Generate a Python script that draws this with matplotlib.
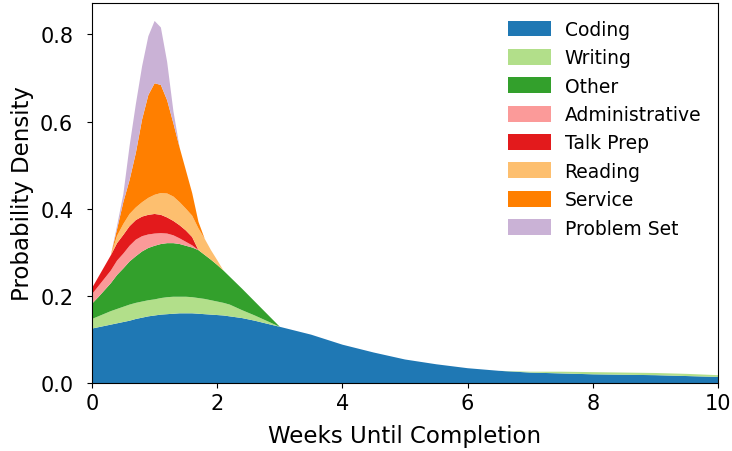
import numpy as np
import matplotlib
matplotlib.use('Agg')
import matplotlib.pyplot as plt

# weeks grid the densities were read at
weeks = [0.0, 0.1, 0.2, 0.3, 0.4, 0.5, 0.6, 0.7, 0.8, 0.9, 1.0, 1.1, 1.2, 1.3,
         1.4, 1.5, 1.6, 1.7, 1.8, 1.9, 2.0, 2.1, 2.2, 2.4, 2.6, 2.8, 3.0, 3.5,
         4.0, 4.5, 5.0, 5.5, 6.0, 6.5, 7.0, 7.5, 8.0, 8.5, 9.0, 9.5, 10.0]

coding = [0.125, 0.128, 0.131, 0.134, 0.137, 0.140, 0.143, 0.147, 0.150, 0.153,
          0.155, 0.157, 0.158, 0.159, 0.160, 0.160, 0.160, 0.159, 0.158, 0.157,
          0.156, 0.155, 0.153, 0.149, 0.143, 0.136, 0.129, 0.111, 0.088, 0.070,
          0.054, 0.043, 0.034, 0.028, 0.024, 0.022, 0.020, 0.019, 0.018, 0.016,
          0.014]
writing = [0.022, 0.025, 0.028, 0.031, 0.033, 0.035, 0.037, 0.037, 0.037, 0.037,
           0.037, 0.038, 0.039, 0.039, 0.038, 0.038, 0.037, 0.036, 0.035, 0.033,
           0.031, 0.029, 0.027, 0.018, 0.012, 0.006, 0.0, 0.0, 0.0, 0.0,
           0.0, 0.0, 0.0, 0.0, 0.002, 0.004, 0.005, 0.005, 0.005, 0.005,
           0.004]
other = [0.035, 0.044, 0.054, 0.064, 0.078, 0.088, 0.099, 0.107, 0.115, 0.120,
         0.123, 0.124, 0.124, 0.123, 0.121, 0.117, 0.114, 0.110, 0.101, 0.093,
         0.084, 0.074, 0.064, 0.049, 0.032, 0.016, 0.0, 0.0, 0.0, 0.0,
         0.0, 0.0, 0.0, 0.0, 0.0, 0.0, 0.0, 0.0, 0.0, 0.0,
         0.0]
administrative = [0.022, 0.025, 0.027, 0.029, 0.033, 0.034, 0.036, 0.038, 0.035, 0.031,
                  0.028, 0.025, 0.022, 0.018, 0.013, 0.009, 0.005, 0.0, 0.0, 0.0,
                  0.0, 0.0, 0.0, 0.0, 0.0, 0.0, 0.0, 0.0, 0.0, 0.0,
                  0.0, 0.0, 0.0, 0.0, 0.0, 0.0, 0.0, 0.0, 0.0, 0.0,
                  0.0]
talk_prep = [0.014, 0.021, 0.028, 0.035, 0.040, 0.043, 0.045, 0.045, 0.045, 0.045,
             0.045, 0.042, 0.037, 0.033, 0.030, 0.026, 0.019, 0.0, 0.0, 0.0,
             0.0, 0.0, 0.0, 0.0, 0.0, 0.0, 0.0, 0.0, 0.0, 0.0,
             0.0, 0.0, 0.0, 0.0, 0.0, 0.0, 0.0, 0.0, 0.0, 0.0,
             0.0]
reading = [0.0, 0.0, 0.0, 0.0, 0.017, 0.025, 0.028, 0.029, 0.033, 0.039,
           0.044, 0.050, 0.055, 0.056, 0.053, 0.050, 0.049, 0.050, 0.037, 0.022,
           0.011, 0.0, 0.0, 0.0, 0.0, 0.0, 0.0, 0.0, 0.0, 0.0,
           0.0, 0.0, 0.0, 0.0, 0.0, 0.0, 0.0, 0.0, 0.0, 0.0,
           0.0]
service = [0.0, 0.0, 0.0, 0.0, 0.015, 0.050, 0.078, 0.125, 0.190, 0.236,
           0.256, 0.248, 0.214, 0.168, 0.125, 0.088, 0.052, 0.015, 0.0, 0.0,
           0.0, 0.0, 0.0, 0.0, 0.0, 0.0, 0.0, 0.0, 0.0, 0.0,
           0.0, 0.0, 0.0, 0.0, 0.0, 0.0, 0.0, 0.0, 0.0, 0.0,
           0.0]
problem_set = [0.0, 0.0, 0.0, 0.0, 0.008, 0.018, 0.078, 0.112, 0.122, 0.135,
               0.143, 0.132, 0.088, 0.028, 0.0, 0.0, 0.0, 0.0, 0.0, 0.0,
               0.0, 0.0, 0.0, 0.0, 0.0, 0.0, 0.0, 0.0, 0.0, 0.0,
               0.0, 0.0, 0.0, 0.0, 0.0, 0.0, 0.0, 0.0, 0.0, 0.0,
               0.0]

labels = ['Coding', 'Writing', 'Other', 'Administrative', 'Talk Prep',
          'Reading', 'Service', 'Problem Set']
colors = ['#1f78b4', '#b2df8a', '#33a02c', '#fb9a99', '#e31a1c',
          '#fdbf6f', '#ff7f00', '#cab2d6']

plt.rcParams['font.family'] = 'DejaVu Sans'
plt.rcParams['font.size'] = 15

fig = plt.figure(figsize=(7.32, 4.52), dpi=100)
ax = fig.add_axes([0.1257, 0.1504, 0.8553, 0.8406])

ax.stackplot(weeks, coding, writing, other, administrative, talk_prep,
             reading, service, problem_set, labels=labels, colors=colors)

ax.set_xlim(0, 10)
ax.set_ylim(0, 0.872)
ax.set_xticks([0, 2, 4, 6, 8, 10])
ax.set_yticks([0.0, 0.2, 0.4, 0.6, 0.8])
ax.tick_params(axis='y', pad=10)
ax.set_xlabel('Weeks Until Completion', fontsize=16.5, labelpad=8)
ax.set_ylabel('Probability Density', fontsize=16.5)
ax.legend(loc='upper right', frameon=False, fontsize=13.5,
          handlelength=2.27, handleheight=0.93, handletextpad=0.74,
          labelspacing=0.5)

fig.savefig('out.png', dpi=100)
